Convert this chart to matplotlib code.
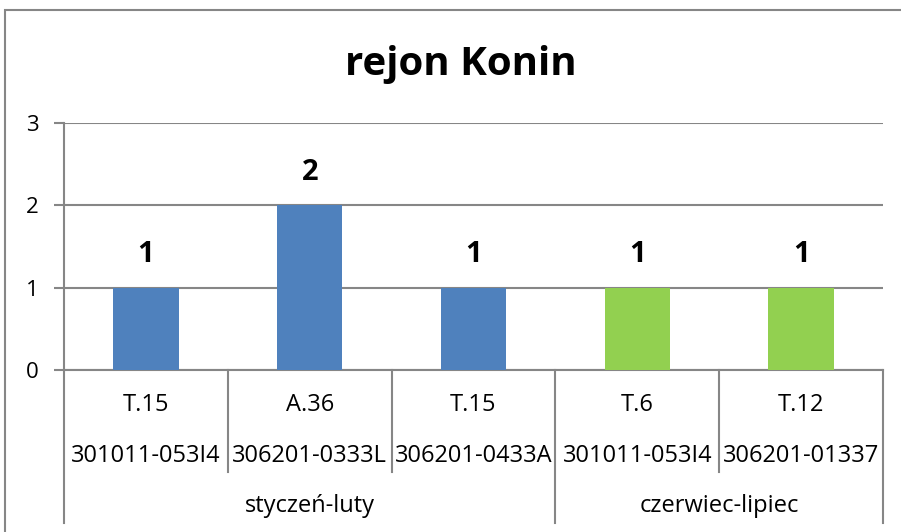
import matplotlib.pyplot as plt
from matplotlib.patches import Rectangle
from matplotlib.lines import Line2D

plt.rcParams['font.family'] = ['Open Sans', 'DejaVu Sans']

# data
values = [1, 2, 1, 1, 1]
codes_short = ['T.15', 'A.36', 'T.15', 'T.6', 'T.12']
codes_long = ['301011-053I4', '306201-0333L', '306201-0433A', '301011-053I4', '306201-01337']
groups = ['styczeń-luty', 'czerwiec-lipiec']
group_sizes = [3, 2]
group_colors = ['#4F81BD', '#92D050']

colors = []
for c, n in zip(group_colors, group_sizes):
    colors += [c] * n

fig = plt.figure(figsize=(9.01, 5.32), dpi=100)
ax = fig.add_axes([64/901, 1-370/532, (883-64)/901, (370-123)/532])

x = list(range(len(values)))
ax.bar(x, values, width=0.4, color=colors, zorder=3)
for xi, v in zip(x, values):
    ax.text(xi, v + 0.40, str(v), ha='center', va='center', fontsize=21, fontweight='bold')

ax.set_xlim(-0.5, len(values) - 0.5)
ax.set_ylim(0, 3)
ax.set_yticks([0, 1, 2, 3])
ax.set_xticks([])
ax.grid(axis='y', color='#868686', lw=1.5, zorder=0)
ax.tick_params(axis='y', length=7, width=1.5, color='#868686', labelsize=16, pad=11)
for s in ['top', 'right']:
    ax.spines[s].set_visible(False)
for s in ['left', 'bottom']:
    ax.spines[s].set_color('#868686')
    ax.spines[s].set_linewidth(1.5)

# multi-level category axis
tr = ax.get_xaxis_transform()
fs = 17
for xi, a, b in zip(x, codes_short, codes_long):
    ax.text(xi, -0.142, a, transform=tr, ha='center', va='center', fontsize=fs, clip_on=False)
    ax.text(xi, -0.35, b, transform=tr, ha='center', va='center', fontsize=fs, clip_on=False)

start = 0
bounds = [-0.5]
for g, n in zip(groups, group_sizes):
    ax.text(start + (n - 1) / 2, -0.55, g, transform=tr, ha='center', va='center', fontsize=fs, clip_on=False)
    start += n
    bounds.append(start - 0.5)

for k in range(len(values) + 1):
    xb = k - 0.5
    y_end = -0.62 if xb in bounds else -0.413
    ax.add_line(Line2D([xb, xb], [0, y_end], transform=tr, color='#868686', lw=1.5, clip_on=False))

fig.text(461/901, 1 - 65/532, 'rejon Konin', fontsize=29, fontweight='bold', ha='center', va='center')

# chart border
fig.add_artist(Rectangle((5/901, -0.1), 1.2, 1 - 10/532 + 0.1, transform=fig.transFigure,
                         fill=False, edgecolor='#868686', lw=1.5))

fig.savefig('out.png', dpi=100)
